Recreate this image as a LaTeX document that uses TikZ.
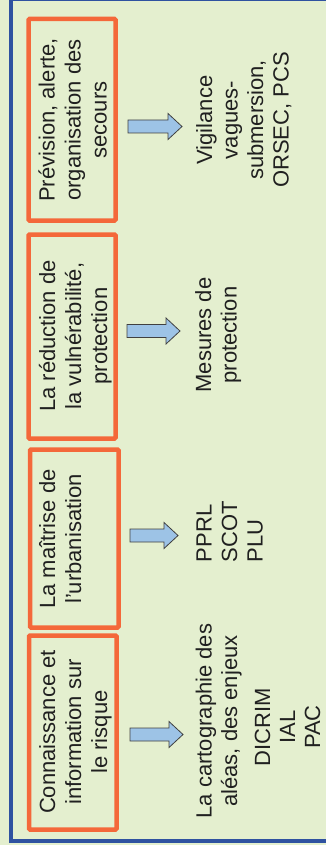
\documentclass[tikz,border=0pt]{standalone}
\usepackage{fontspec}
\setmainfont{Liberation Sans}
\definecolor{bgC}{HTML}{E4EFCF}
\definecolor{frameC}{HTML}{2F52A0}
\definecolor{boxC}{HTML}{F4683A}
\definecolor{arrowC}{HTML}{9DC3E6}
\definecolor{textC}{HTML}{202020}
\begin{document}
\begin{tikzpicture}[x=1pt,y=-1pt,
  box/.style={draw=boxC, line width=4.5pt, rounded corners=1pt},
  lbl/.style={rotate=90, anchor=base, inner sep=0pt, align=center, text=textC,
    font=\fontsize{22}{26}\selectfont},
  rlbl/.style={rotate=90, anchor=base, inner sep=0pt, align=center, text=textC,
    font=\fontsize{22}{25.5}\selectfont},
  barrow/.style={draw=black!75, fill=arrowC, line width=0.8pt, line join=miter}]
\useasboundingbox (0,0) rectangle (326,845);
\fill[bgC] (0,0) rectangle (326,845);
\draw[frameC, line width=4pt] (11,-1) rectangle (340,841);
% boxes
\draw[box] (28.5,19) rectangle (115.5,220.5);
\draw[box] (28.5,234.5) rectangle (115.5,438.5);
\draw[box] (30,449.5) rectangle (118.5,627.5);
\draw[box] (29,635.5) rectangle (116.5,829.5);
% box texts (anchor = baseline of the last line)
\node[lbl] (t1) at (106.5,120) {Prévision, alerte,\\organisation des\\secours};
\node[lbl] (t2) at (107,336) {La réduction de\\la vulnérabilité,\\protection};
\node[lbl] (t3) at (81,539) {La maîtrise de\\l'urbanisation};
\node[lbl] (t4) at (107,732) {Connaissance et\\information sur\\le risque};
% arrows
\draw[barrow] (128,120) -- (168,120) -- (168,113.5) -- (182,126.5) -- (168,139.5) -- (168,133) -- (128,133) -- cycle;
\draw[barrow] (127,324.5) -- (166,324.5) -- (166,318) -- (180,331) -- (166,344) -- (166,337.5) -- (127,337.5) -- cycle;
\draw[barrow] (130,529) -- (164,529) -- (164,522.5) -- (178,535.5) -- (164,548.5) -- (164,542) -- (130,542) -- cycle;
\draw[barrow] (130,728) -- (169,728) -- (169,721.5) -- (183,734.5) -- (169,747.5) -- (169,741) -- (130,741) -- cycle;
% right texts
\node[rlbl] (r1) at (288.5,120) {Vigilance\\vagues-\\submersion,\\ORSEC, PCS};
\node[rlbl] (r2) at (236.5,335) {Mesures de\\protection};
\node[rlbl, align=left] (r3) at (262.5,531.5) {PPRL\\SCOT\\PLU};
\node[rlbl] (r4a) at (237,721) {La cartographie des\\aléas, des enjeux};
\node[rlbl, font=\fontsize{22}{25}\selectfont] (r4b) at (320,727) {DICRIM\\IAL\\PAC};
\end{tikzpicture}
\end{document}
